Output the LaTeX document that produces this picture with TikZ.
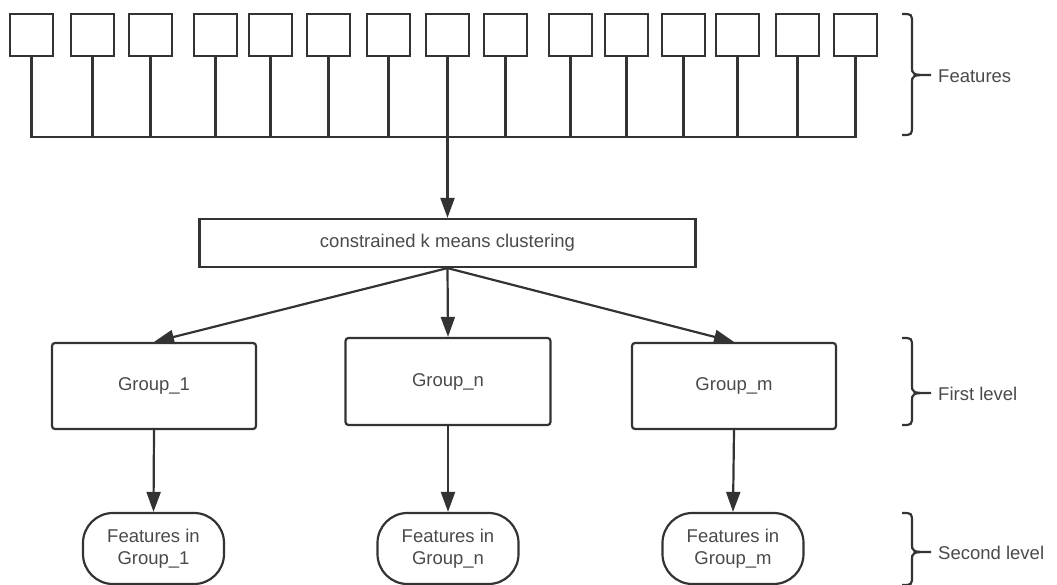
\documentclass[tikz,border=0pt]{standalone}
\usepackage{fontspec}
\setmainfont{Liberation Sans}
\usetikzlibrary{arrows.meta}
\definecolor{ln}{HTML}{333333}
\definecolor{tx}{HTML}{4A4A4A}
\begin{document}
\begin{tikzpicture}[x=1pt,y=-1pt,
  txtfont/.style={text=tx, font=\fontsize{18.5}{22}\selectfont},
  featbox/.style={draw=ln, line width=2.2pt, minimum width=43pt, minimum height=42pt, inner sep=0pt},
  procbox/.style={draw=ln, line width=2.2pt, inner sep=0pt, txtfont},
  groupbox/.style={procbox, rounded corners=3pt, minimum width=204pt, minimum height=86pt},
  termbox/.style={draw=ln, line width=2.2pt, rounded corners=30pt, minimum width=141pt, minimum height=71pt, inner sep=0pt, align=center, txtfont},
  conn/.style={draw=ln, line width=2.2pt},
  arr/.style={conn, -{Triangle[length=20pt,width=14pt]}},
  bracepath/.style={draw=ln, line width=2.2pt},
  lbl/.style={anchor=west, inner sep=0pt, txtfont}
]
\useasboundingbox (0,0) rectangle (1057,585);

% feature boxes
\foreach \l [count=\i] in {10,71,129,194,249,307,367,426,484,549,605,662,716,776,834} {
  \node[featbox] (f\i) at (\l+21.5,35) {};
  \coordinate (b\i) at (\l+21.5,137);
}
\draw[conn, line join=miter] (f1.south) -- (b1) -- (b15) -- (f15.south);
\foreach \i in {2,...,14} { \draw[conn] (f\i.south) -- (b\i); }

% clustering
\node[procbox, minimum width=496pt, minimum height=48pt] (clus) at (447.5,243) {constrained k means clustering};
\draw[arr] (b8) -- (clus.north);

% groups
\node[groupbox] (g1) at (154,386) {Group\_1};
\node[groupbox, minimum width=205pt, minimum height=87pt] (gn) at (448,381.5) {Group\_n};
\node[groupbox] (gm) at (734,386) {Group\_m};

\draw[arr] (clus.south) -- (g1.north);
\draw[arr] (clus.south) -- (gn.north);
\draw[arr] (clus.south) -- (gm.north);

% second level
\node[termbox] (t1) at (153.5,548.5) {Features in\\Group\_1};
\node[termbox] (tn) at (448,548.5) {Features in\\Group\_n};
\node[termbox] (tm) at (733,548.5) {Features in\\Group\_m};

\draw[arr] (g1.south) -- (t1.north);
\draw[arr] (gn.south) -- (tn.north);
\draw[arr] (gm.south) -- (tm.north);

% braces
\def\bx{902}\def\by{912}\def\bt{931}
\foreach \yT/\yB/\yM/\txt/\nm in {14/135/75/Features/lf, 338/425/393/First level/l1, 513/585/552/Second level/l2} {
  \draw[bracepath] (\bx,\yT) .. controls (\by,\yT) .. (\by,\yT+10)
     -- (\by,\yM-9) .. controls (\by,\yM) .. (\bt,\yM)
     .. controls (\by,\yM) .. (\by,\yM+9)
     -- (\by,\yB-10) .. controls (\by,\yB) .. (\bx,\yB);
  \node[lbl] (\nm) at (\bt+7,\yM+1) {\txt};
}
\end{tikzpicture}
\end{document}
